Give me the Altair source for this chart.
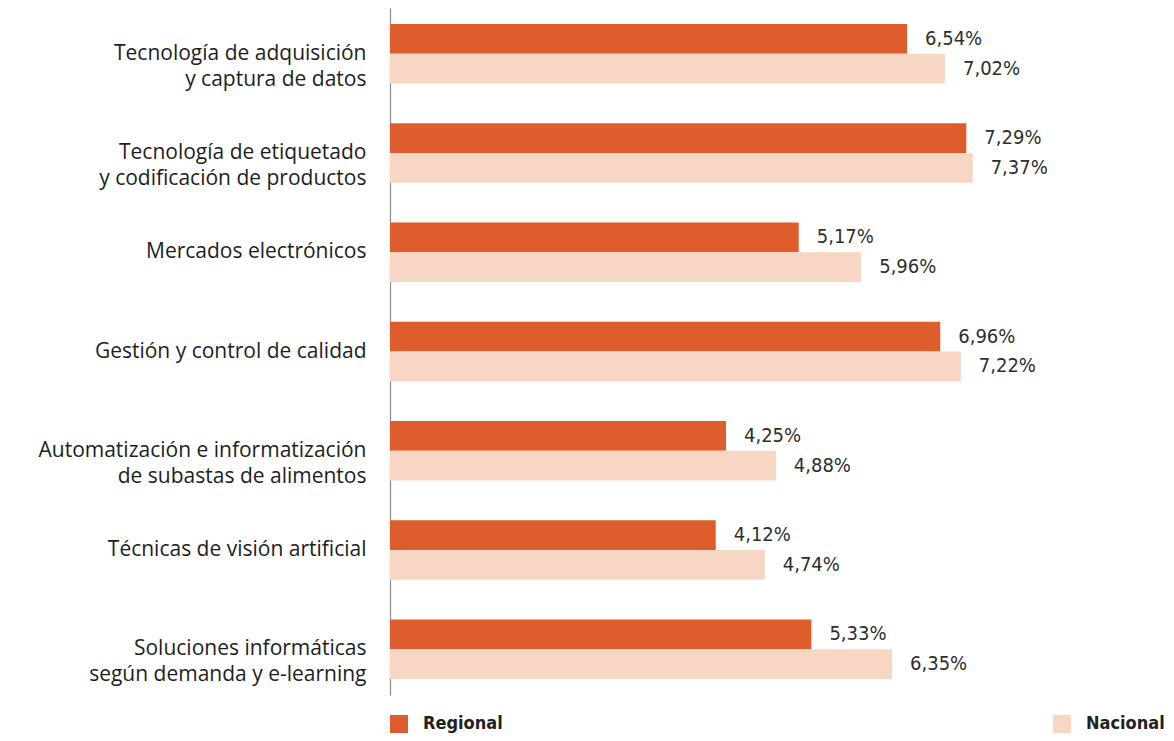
import altair as alt
import pandas as pd

categories = [
    "Tecnología de adquisición|y captura de datos",
    "Tecnología de etiquetado|y codificación de productos",
    "Mercados electrónicos",
    "Gestión y control de calidad",
    "Automatización e informatización|de subastas de alimentos",
    "Técnicas de visión artificial",
    "Soluciones informáticas|según demanda y e-learning",
]
regional = [6.54, 7.29, 5.17, 6.96, 4.25, 4.12, 5.33]
nacional = [7.02, 7.37, 5.96, 7.22, 4.88, 4.74, 6.35]
series = ["Regional", "Nacional"]
colors = ["#DF5C2C", "#F7D6C4"]

rows = []
for c, r, n in zip(categories, regional, nacional):
    for s, v in zip(series, [r, n]):
        rows.append({"cat": c, "serie": s, "valor": v,
                     "label": f"{v:.2f}".replace(".", ",") + "%"})
df = pd.DataFrame(rows)

y_enc = alt.Y("cat:N", sort=categories,
              scale=alt.Scale(paddingInner=0.4, paddingOuter=0.16),
              axis=alt.Axis(title=None, ticks=False, tickSize=0, grid=False,
                            domainColor="#8a8a8a", domainWidth=1.2,
                            labelFont="Open Sans", labelFontSize=21,
                            labelFontWeight=500,
                            labelColor="#1e1e1e", labelPadding=24,
                            labelLimit=400, labelLineHeight=26,
                            minExtent=382, maxExtent=382,
                            labelExpr="split(datum.label, '|')"))
yoff = alt.YOffset("serie:N", sort=series)
x_enc = alt.X("valor:Q", scale=alt.Scale(domain=[0, 9.79], nice=False, zero=True), axis=None)

bars = alt.Chart(df).mark_bar(cornerRadius=0).encode(
    y=y_enc, yOffset=yoff, x=x_enc,
    color=alt.Color("serie:N", sort=series,
                    scale=alt.Scale(domain=series, range=colors),
                    legend=alt.Legend(title=None, orient="none", legendX=0, legendY=707,
                                      direction="horizontal", columns=2,
                                      columnPadding=550, symbolType="square",
                                      symbolSize=324, symbolStrokeWidth=0,
                                      labelOffset=15,
                                      labelFont="DejaVu Sans Condensed",
                                      labelFontSize=18, labelFontWeight="bold",
                                      labelColor="#222222")),
)

text = alt.Chart(df).mark_text(align="left", baseline="middle", dx=18,
                               font="DejaVu Sans Condensed", fontSize=20,
                               color="#2e2e2e").encode(
    y=alt.Y("cat:N", sort=categories), yOffset=yoff, x="valor:Q", text="label:N"
)

chart = (bars + text).properties(
    width=774, height=687,
    padding={"left": 0, "top": 0, "right": 0, "bottom": 0},
).configure_view(stroke=None)

chart.save("out.html", embed_options={"renderer": "svg", "actions": False})
